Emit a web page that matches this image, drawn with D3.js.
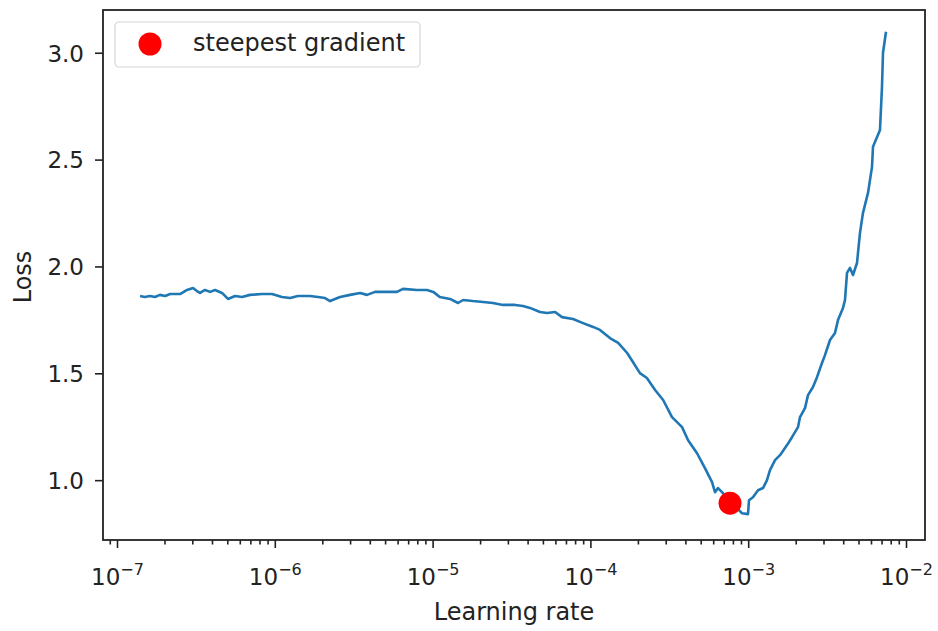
<!DOCTYPE html>
<html>
<head>
<meta charset="utf-8">
<script src="https://cdn.jsdelivr.net/npm/d3@7"></script>
<style>
  body { margin: 0; background: #fff; }
  .canvas text { font-family: "DejaVu Sans", sans-serif; fill: #222; }
</style>
</head>
<body>
<div class="canvas"></div>
<script>
// learning rates
const lrs = [
  1.40e-7, 1.50e-7, 1.62e-7, 1.74e-7, 1.87e-7, 2.02e-7, 2.17e-7, 2.51e-7, 2.78e-7, 3.03e-7,
  3.21e-7, 3.36e-7, 3.61e-7, 3.89e-7, 4.18e-7, 4.63e-7, 5.05e-7, 5.60e-7, 6.20e-7, 6.96e-7,
  8.30e-7, 9.60e-7, 1.11e-6, 1.25e-6, 1.40e-6, 1.67e-6, 1.88e-6, 2.08e-6, 2.24e-6, 2.59e-6,
  3.00e-6, 3.47e-6, 3.84e-6, 4.32e-6, 5.14e-6, 5.95e-6, 6.49e-6, 7.96e-6, 9.22e-6, 1.01e-5,
  1.11e-5, 1.29e-5, 1.45e-5, 1.56e-5, 1.80e-5, 2.09e-5, 2.41e-5, 2.79e-5, 3.33e-5, 3.74e-5,
  4.14e-5, 4.79e-5, 5.31e-5, 5.97e-5, 6.61e-5, 7.76e-5, 8.98e-5, 1.04e-4, 1.15e-4, 1.33e-4,
  1.50e-4, 1.71e-4, 1.86e-4, 2.06e-4, 2.28e-4, 2.57e-4, 2.89e-4, 3.29e-4, 3.81e-4, 4.16e-4,
  4.74e-4, 5.32e-4, 5.90e-4, 6.16e-4, 6.44e-4, 6.92e-4, 7.67e-4, 8.49e-4, 9.14e-4, 9.97e-4,
  1.012e-3, 1.072e-3, 1.154e-3, 1.241e-3, 1.315e-3, 1.374e-3, 1.479e-3, 1.591e-3, 1.762e-3, 1.895e-3,
  2.068e-3, 2.130e-3, 2.290e-3, 2.393e-3, 2.574e-3, 2.729e-3, 2.935e-3, 3.066e-3, 3.299e-3, 3.549e-3,
  3.707e-3, 3.988e-3, 4.106e-3, 4.228e-3, 4.417e-3, 4.614e-3, 4.891e-3, 5.110e-3, 5.339e-3, 5.744e-3,
  6.089e-3, 6.178e-3, 6.646e-3, 6.842e-3, 7.045e-3, 7.149e-3, 7.470e-3
];

const losses = [
  1.862, 1.857, 1.862, 1.857, 1.867, 1.862, 1.871, 1.871, 1.890, 1.899,
  1.885, 1.876, 1.890, 1.881, 1.890, 1.876, 1.848, 1.862, 1.857, 1.867,
  1.871, 1.871, 1.857, 1.852, 1.862, 1.862, 1.857, 1.852, 1.838, 1.857,
  1.867, 1.876, 1.867, 1.881, 1.881, 1.881, 1.895, 1.890, 1.890, 1.881,
  1.857, 1.848, 1.829, 1.843, 1.838, 1.834, 1.829, 1.820, 1.820, 1.815,
  1.806, 1.787, 1.782, 1.787, 1.763, 1.754, 1.735, 1.717, 1.703, 1.665,
  1.642, 1.595, 1.553, 1.501, 1.478, 1.422, 1.375, 1.295, 1.248, 1.187,
  1.126, 1.056, 0.991, 0.944, 0.963, 0.939, 0.892, 0.869, 0.845, 0.841,
  0.906, 0.920, 0.953, 0.963, 1.000, 1.047, 1.094, 1.117, 1.164, 1.201,
  1.248, 1.295, 1.337, 1.398, 1.436, 1.482, 1.548, 1.585, 1.656, 1.689,
  1.749, 1.806, 1.843, 1.970, 1.993, 1.960, 2.016, 2.157, 2.251, 2.344,
  2.466, 2.560, 2.616, 2.639, 2.841, 3.000, 3.098
];

// steepest gradient marker
const steepLr = [7.67e-4];
const steepLoss = [0.892];

const yTicks = [1.0, 1.5, 2.0, 2.5, 3.0];
const xExponents = [-7, -6, -5, -4, -3, -2];
const legendLabels = ["steepest gradient"];

const margin = { top: 10, right: 13, bottom: 91, left: 103 };
const graphWidth = 938 - margin.left - margin.right;
const graphHeight = 631 - margin.top - margin.bottom;

const svg = d3
  .select(".canvas")
  .append("svg")
  .attr("width", 938)
  .attr("height", 631);

const graph = svg
  .append("g")
  .attr("transform", `translate(${margin.left}, ${margin.top})`);

//scales
const x = d3
  .scaleLog()
  .domain([Math.pow(10, -7.0887), Math.pow(10, -1.8796)])
  .range([0, graphWidth]);
const y = d3.scaleLinear().domain([0.72, 3.2]).range([graphHeight, 0]);

//minor ticks on the log axis
const minorTicks = [];
for (let e = -8; e <= -2; e++) {
  for (let m = 2; m <= 9; m++) {
    const v = m * Math.pow(10, e);
    if (v >= x.domain()[0] && v <= x.domain()[1]) minorTicks.push(v);
  }
}

const minorAxis = d3
  .axisBottom(x)
  .tickValues(minorTicks)
  .tickFormat("")
  .tickSize(4.5)
  .tickSizeOuter(0);

const xAxis = d3
  .axisBottom(x)
  .tickValues(xExponents.map(e => Math.pow(10, e)))
  .tickFormat("")
  .tickSize(8)
  .tickSizeOuter(0);

const yAxis = d3
  .axisLeft(y)
  .tickValues(yTicks)
  .tickFormat(d3.format(".1f"))
  .tickSize(8)
  .tickSizeOuter(0);

const minorGroup = graph
  .append("g")
  .attr("transform", `translate(0, ${graphHeight})`)
  .call(minorAxis);

const xAxisGroup = graph
  .append("g")
  .attr("transform", `translate(0, ${graphHeight})`)
  .call(xAxis);

const yAxisGroup = graph.append("g").call(yAxis);

[minorGroup, xAxisGroup, yAxisGroup].forEach(g => {
  g.select(".domain").remove();
  g.selectAll("line").attr("stroke", "#222").attr("stroke-width", 1.6);
});

yAxisGroup
  .selectAll("text")
  .attr("x", -19)
  .attr("font-size", 23)
  .attr("dy", "0.36em");

//x tick labels as 10 with a superscript exponent
xAxisGroup
  .selectAll(".tick")
  .data(xExponents)
  .append("text")
  .attr("y", 45)
  .attr("text-anchor", "middle")
  .attr("font-size", 23)
  .each(function(e) {
    const t = d3.select(this);
    t.append("tspan").text("10");
    t.append("tspan")
      .attr("font-size", 16)
      .attr("dy", -10)
      .text("\u2212" + Math.abs(e));
  });

//line path
const line = d3
  .line()
  .x((d, i) => x(lrs[i]))
  .y(d => y(d));

graph
  .append("path")
  .datum(losses)
  .attr("fill", "none")
  .attr("stroke", "#1f77b4")
  .attr("stroke-width", 2.6)
  .attr("stroke-linejoin", "round")
  .attr("d", line);

//steepest gradient point
graph
  .selectAll("circle.steep")
  .data(steepLr)
  .enter()
  .append("circle")
  .attr("class", "steep")
  .attr("cx", d => x(d))
  .attr("cy", (d, i) => y(steepLoss[i]))
  .attr("r", 11.5)
  .attr("fill", "#ff0000");

//frame
graph
  .append("rect")
  .attr("width", graphWidth)
  .attr("height", graphHeight)
  .attr("fill", "none")
  .attr("stroke", "#222")
  .attr("stroke-width", 1.8);

//legend
const legend = graph.append("g").attr("transform", "translate(12, 12)");

legend
  .append("rect")
  .attr("width", 305)
  .attr("height", 45)
  .attr("rx", 4)
  .attr("fill", "#fff")
  .attr("fill-opacity", 0.8)
  .attr("stroke", "#d6d6d6")
  .attr("stroke-width", 1.2);

legend
  .selectAll("circle")
  .data(legendLabels)
  .enter()
  .append("circle")
  .attr("cx", 35)
  .attr("cy", 22)
  .attr("r", 11.5)
  .attr("fill", "#ff0000");

legend
  .selectAll("text")
  .data(legendLabels)
  .enter()
  .append("text")
  .attr("x", 78)
  .attr("y", 29)
  .attr("font-size", 24)
  .text(d => d);

//axis titles
svg
  .append("text")
  .attr("x", margin.left + graphWidth / 2)
  .attr("y", 620)
  .attr("text-anchor", "middle")
  .attr("font-size", 24)
  .text("Learning rate");

svg
  .append("text")
  .attr("transform", `translate(31, ${margin.top + graphHeight / 2 + 2}) rotate(-90)`)
  .attr("text-anchor", "middle")
  .attr("font-size", 24)
  .text("Loss");
</script>
</body>
</html>
